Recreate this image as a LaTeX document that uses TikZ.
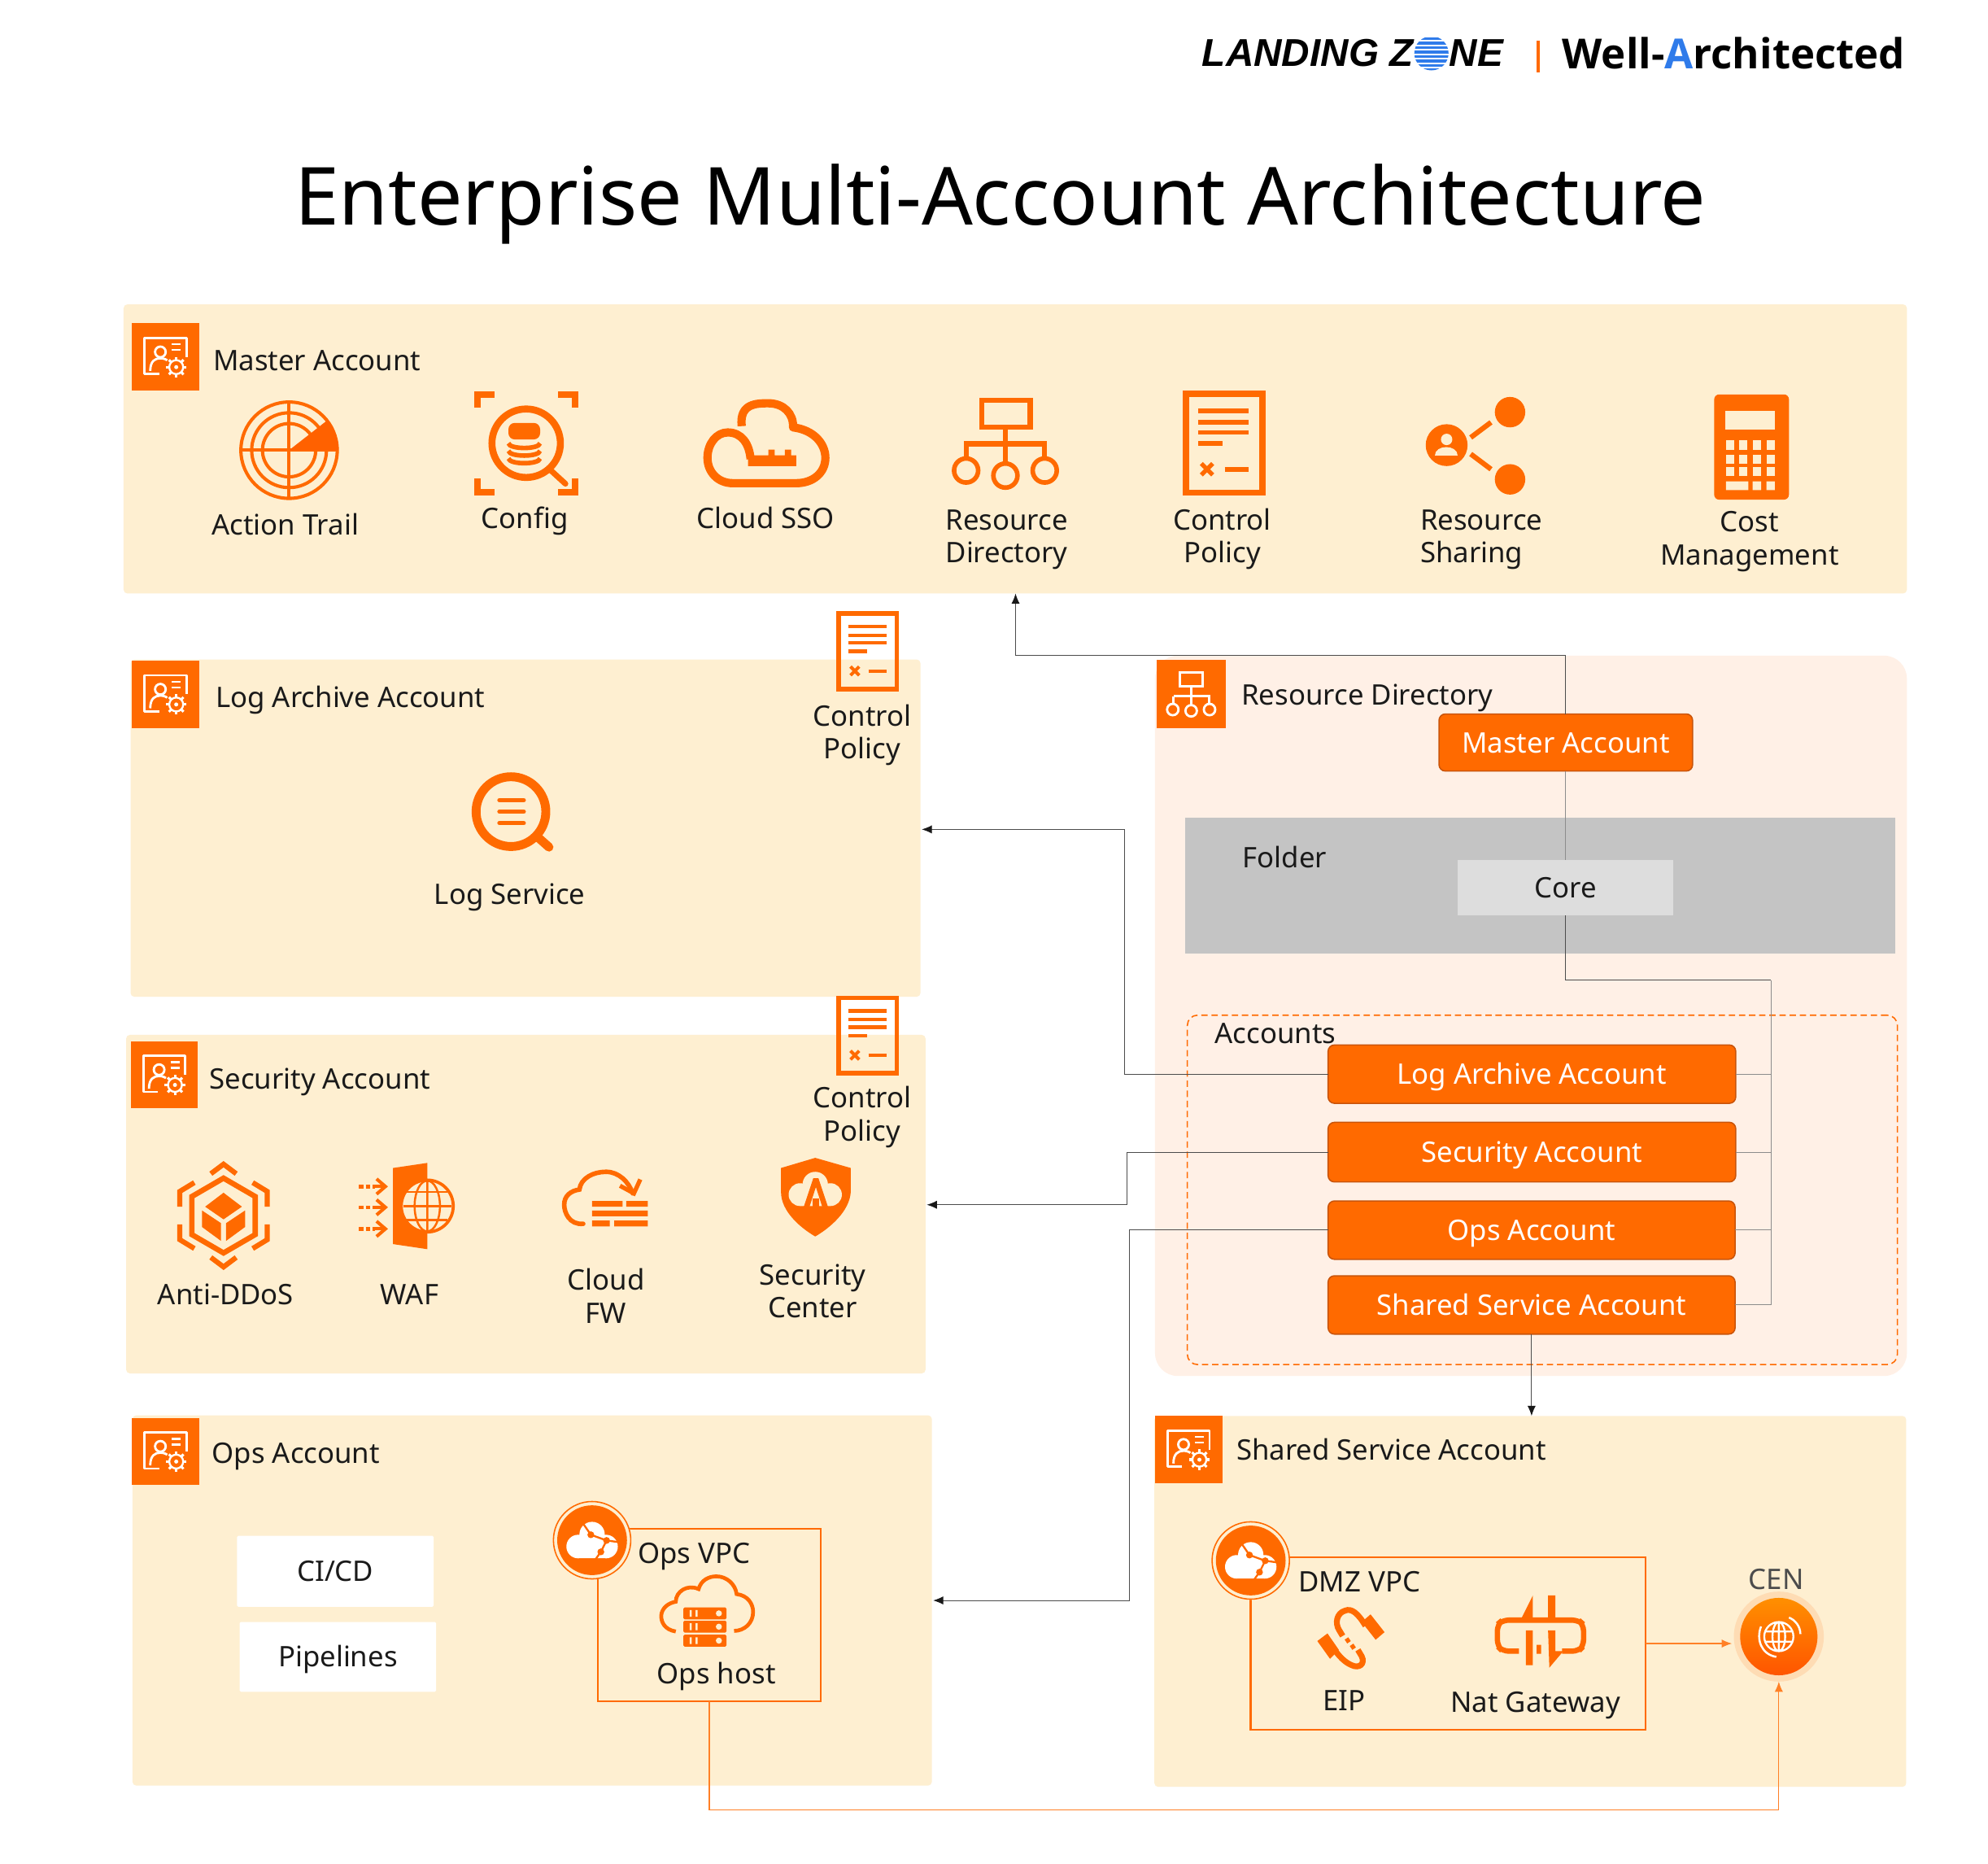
\documentclass[tikz,border=0pt]{standalone}
\usepackage{fontspec}
\setmainfont{Noto Sans}
\newfontfamily\logofont{Liberation Sans}
\newfontfamily\wafont{Open Sans}
\usetikzlibrary{arrows.meta,calc}
\definecolor{orm}{HTML}{FF6A00}
\definecolor{ordk}{HTML}{C9540A}
\definecolor{cream}{HTML}{FEEFD1}
\definecolor{rdbg}{HTML}{FFF0E6}
\definecolor{folderc}{HTML}{C4C4C4}
\definecolor{corec}{HTML}{DDDDDD}
\definecolor{ink}{HTML}{1A1A1A}
\definecolor{logoblue}{HTML}{2F7BEA}
\tikzset{
  panel/.style={fill=cream,rounded corners=3pt},
  rdpanel/.style={fill=rdbg,rounded corners=18pt},
  folderbox/.style={fill=folderc},
  one/.style={text height=16pt,text depth=0pt},
  corebox/.style={fill=corec,text=ink,font=\lblfont,one},
  dashbox/.style={draw=orm,dashed,line width=1pt,rounded corners=8pt,dash pattern=on 5pt off 3pt},
  acct/.style={fill=orm,draw=ordk,line width=1pt,rounded corners=5pt,text=white,font=\lblfont,one},
  whitebox/.style={fill=white,rounded corners=1pt,text=ink,font=\lblfont,one},
  vpcbox/.style={draw=orm,line width=1.5pt},
  lbl/.style={text=ink,font=\lblfont,inner sep=0pt,align=center},
  lbln/.style={text=ink,font=\lblfont,inner sep=0pt,one},
  lbll/.style={text=ink,font=\lblfont,inner sep=0pt,anchor=west,one},
  conn/.style={draw=black!70,line width=0.65pt},
  gconn/.style={draw=black!45,line width=0.65pt},
  oconn/.style={draw=orm!85,line width=0.8pt},
  tip/.style={-{Latex[length=8pt,width=6.5pt,black!90]}},
  otip/.style={-{Latex[length=8pt,width=6.5pt]}},
}
\newcommand{\lblfont}{\fontsize{22.3}{26}\selectfont}
\newcommand{\boxnode}[7]{%
  \pgfmathsetmacro\bw{#4-#2}\pgfmathsetmacro\bh{#5-#3}%
  \pgfmathsetmacro\bx{(#2+#4)/2}\pgfmathsetmacro\by{(#3+#5)/2}%
  \node[#6,minimum width=\bw pt,minimum height=\bh pt,inner sep=0pt,outer sep=0pt] (#1) at (\bx,\by) {#7};}
% account header icon
\newcommand{\icAcc}[2]{\begin{scope}[shift={(#1,#2)}]
  \fill[orm] (-26.5,-26.5) rectangle (26.5,26.5);
  \draw[white,line width=1.8pt,line join=round] (-5,13.5) -- (-16.5,13.5) -- (-16.5,-15) -- (16.5,-15) -- (16.5,0);
  \draw[white,line width=1.8pt] (-4,-4) circle (4.2pt);
  \draw[white,line width=1.8pt] (-12,11) .. controls (-12,3) and (-8,1) .. (-4,1) .. controls (-1,1) and (1,2) .. (3,4);
  \draw[white,line width=1.6pt] (5,-10) -- (12,-10) (5,-5.5) -- (12,-5.5);
  \fill[orm] (8.5,8) circle (9pt);
  \draw[white,line width=1.5pt] (8.5,8) circle (5.5pt);
  \fill[white] (8.5,8) circle (1.6pt);
  \foreach \a in {0,45,...,315} \draw[white,line width=2pt] (8.5,8) ++(\a:5.5pt) -- ++(\a:2.6pt);
\end{scope}}
% policy icon
\newcommand{\icPolicy}[3]{\begin{scope}[shift={(#1,#2)},scale=#3]
  \draw[orm,line width=#3*5pt] (-30,-39) rectangle (30,39);
  \draw[orm,line width=#3*3.6pt] (-20.5,-25.5) -- (19.5,-25.5) (-20.5,-16.5) -- (19.5,-16.5) (-20.5,-8.5) -- (19.5,-8.5) (-20.5,0) -- (-1,0) (0.5,20.5) -- (19.5,20.5);
  \draw[orm,line width=#3*3.4pt] (-18,16) -- (-9,25) (-18,25) -- (-9,16);
\end{scope}}
% white cloud VPC badge
\newcommand{\icVpc}[2]{\begin{scope}[shift={(#1,#2)}]
  \fill[cream] (0,0) circle (31pt);
  \draw[orm,line width=1pt] (0,0) circle (30.5pt);
  \fill[orm] (0,0) circle (27.5pt);
  \fill[white] (-11,5) circle (9.3pt) (0,-4.5) circle (10pt) (11,5) circle (9.3pt) (-11,0) rectangle (11,14.2);
  \draw[orm,line width=1.5pt] (-7,-13) -- (-1,-4.3) -- (11.4,0.2) -- (21,1.5) (11.4,0.2) -- (6.9,9.2) -- (2,16);
  \fill[orm] (-1,-4.3) circle (2.7pt) (11.4,0.2) circle (2.7pt) (6.9,9.2) circle (2.7pt);
\end{scope}}
\newcommand{\icServer}[1]{\fill[orm,rounded corners=1pt] (539,#1) rectangle (573,#1+9.4);
  \fill[cream] (544,#1+2) rectangle (545.6,#1+7.4) (548.6,#1+2) rectangle (550.2,#1+7.4) (567,#1+4.7) circle (2.4pt);}
\begin{document}
\begin{tikzpicture}[x=1pt,y=-1pt]
\useasboundingbox (0,0) rectangle (1568,1469.2);
\fill[white] (0,0) rectangle (1568,1469.2);

% ---- logo and title
\node[inner sep=0pt,anchor=west,text=black] (logoA) at (948,42) {\logofont\bfseries\itshape\fontsize{30.6}{32}\selectfont LANDING Z};
\begin{scope}
  \clip (1129,42) circle (13.5pt);
  \foreach \yy in {29.5,33,36.5,40,43.5,47,50.5,54} \fill[logoblue] (1114,\yy) rectangle (1144,\yy+2.1);
\end{scope}
\node[inner sep=0pt,anchor=west,text=black] (logoB) at (1143,42) {\logofont\bfseries\itshape\fontsize{30.6}{32}\selectfont NE};
\draw[orm,line width=2.6pt] (1213,32) -- (1213,57);
\node[inner sep=0pt,anchor=west,text=black] (wa) at (1232,42) {\wafont\fontsize{32.7}{34}\selectfont\bfseries Well-\textcolor{logoblue}{A}rchitected};
\node[inner sep=0pt,text=black] (title) at (789,161) {\fontsize{63.2}{70}\selectfont Enterprise Multi-Account Architecture};

% ---- panels
\boxnode{mpanel}{97.5}{240}{1504}{468}{panel}{}
\boxnode{lpanel}{103}{520}{726}{786}{panel}{}
\boxnode{spanel}{99.5}{816}{730}{1083}{panel}{}
\boxnode{opanel}{104.5}{1116}{735}{1408}{panel}{}
\boxnode{shpanel}{910.5}{1116.5}{1503.5}{1409}{panel}{}
\boxnode{rdpanel}{911}{517}{1504}{1085}{rdpanel}{}
\boxnode{folder}{935}{645}{1495}{752}{folderbox}{}
\boxnode{core}{1150}{678}{1320}{722}{corebox}{Core}
\boxnode{acctbox}{936.5}{800.5}{1496.5}{1076}{dashbox}{}

% ---- RD account buttons
\boxnode{rdmaster}{1135}{563}{1335}{608}{acct}{Master Account}
\boxnode{logacc}{1047.5}{824}{1369}{870}{acct}{Log Archive Account}
\boxnode{secacc}{1047.5}{885}{1369}{932}{acct}{Security Account}
\boxnode{opsacc}{1047.5}{947}{1368.5}{993}{acct}{Ops Account}
\boxnode{sharedacc}{1047.5}{1006}{1368.5}{1052}{acct}{Shared Service Account}

% ---- header icons
\icAcc{130.5}{281.5}
\icAcc{130.5}{547.5}
\icAcc{129.5}{847.5}
\icAcc{130.5}{1144.5}
\icAcc{937.5}{1143}
\begin{scope}[shift={(939.5,547)}]
  \fill[orm] (-27.5,-27) rectangle (27.5,27);
  \draw[white,line width=1.8pt] (-9,-17) rectangle (9,-6) (0,-6) -- (0,10) (-14,2) -- (14,2) -- (14,8) (-14,2) -- (-14,8);
  \draw[white,line width=1.8pt] (-14.5,12.5) circle (4.5pt) (0,13.5) circle (4.5pt) (14.5,12.5) circle (4.5pt);
\end{scope}

% ---- header labels
\node[lbll] (tMaster) at (168,284) {Master Account};
\node[lbll] (tLog) at (170,550) {Log Archive Account};
\node[lbll] (tSec) at (165,851) {Security Account};
\node[lbll] (tOps) at (167,1146) {Ops Account};
\node[lbll] (tShared) at (975,1143) {Shared Service Account};
\node[lbll] (tRD) at (979,548) {Resource Directory};
\node[lbll] (tFolder) at (980,676) {Folder};
\node[lbll] (tAccounts) at (958,815) {Accounts};

% ---- master panel: action trail
\begin{scope}[shift={(228,355)}]
  \draw[orm,line width=2.6pt] (0,0) circle (38pt) (0,0) circle (29.5pt) (0,0) circle (21pt);
  \draw[orm,line width=2.6pt] (-39,0) -- (39,0) (0,-39) -- (0,39);
  \fill[orm!92!red] (0,0) -- (39,0) arc[start angle=0,end angle=38,radius=39pt] -- cycle;
\end{scope}
\node[lbln] (tAction) at (225,414) {Action Trail};

% config
\begin{scope}[shift={(415,349.5)}]
  \draw[orm,line width=5pt] (-38.5,-28) -- (-38.5,-38.5) -- (-25,-38.5) (38.5,-28) -- (38.5,-38.5) -- (25,-38.5) (-38.5,28) -- (-38.5,38.5) -- (-25,38.5) (38.5,28) -- (38.5,38.5) -- (25,38.5);
  \draw[orm,line width=5.5pt] (0,0) circle (27pt);
  \draw[orm,line width=4.5pt,line cap=round] (19,21) -- (31,32);
  \fill[orm,rounded corners=5pt] (-14,-16) rectangle (11,-3);
  \draw[orm,line width=3.6pt] (-14,0) .. controls (-13,5) and (10,5) .. (11,0)
    (-14,6) .. controls (-13,11) and (10,11) .. (11,6)
    (-14,12) .. controls (-13,17) and (10,17) .. (11,12);
\end{scope}
\node[lbln] (tConfig) at (414,409) {Config};

% cloud SSO
\draw[orm,line width=6.5pt,line join=round] (585,336) .. controls (583,318) and (597,318) .. (606,318) .. controls (618,318) and (626,326) .. (625.5,337) .. controls (642,339) and (651,350) .. (651,361) .. controls (651,373) and (641,381) .. (628,381) -- (578,381) .. controls (566,381) and (558,372) .. (558,361) .. controls (558,350) and (565,341) .. (574,341) .. controls (585,341) and (591,350) .. (592,362);
\fill[orm] (590,359) rectangle (628,367.5) (606,354.5) rectangle (611,360) (619,354.5) rectangle (624,360);
\node[lbln] (tSSO) at (604,409) {Cloud SSO};

% resource directory
\draw[orm,line width=4pt] (774.5,315.5) rectangle (812.5,337) (793,337) -- (793,365) (762,362) -- (762,350) -- (824,350) -- (824,362);
\draw[orm,line width=3.6pt] (762,371) circle (9.5pt) (793,375) circle (9.5pt) (824,371) circle (9.5pt);
\node[lbl] (tRDir) at (794,425.5) {Resource\\Directory};

% control policy
\icPolicy{965.5}{349.5}{1}
\node[lbl] (tPol) at (964,425) {Control\\Policy};

% resource sharing
\fill[orm] (1191,325) circle (12pt) (1191,378) circle (12pt) (1141,351) circle (16.5pt);
\draw[orm,line width=4pt] (1160,345) -- (1176,333) (1160,358) -- (1176,370);
\fill[cream] (1141,346.5) circle (4.5pt);
\fill[cream] (1132,359) .. controls (1132,350) and (1150,350) .. (1150,359) -- cycle;
\node[lbl,anchor=west,align=left] (tShare) at (1120,425.5) {Resource\\Sharing};

% cost management
\fill[orm,rounded corners=4pt] (1352,311) rectangle (1411,394);
\fill[cream] (1361,324) rectangle (1400,339);
\foreach \cy in {351,362,372} \foreach \cx in {1364.6,1375,1385.6,1396.5} \fill[cream] (\cx-3.3,\cy-3.6) rectangle (\cx+3.3,\cy+3.6);
\fill[cream] (1361.3,379.5) rectangle (1379,386.5) (1382.3,379.5) rectangle (1389,386.5) (1393.2,379.5) rectangle (1399.8,386.5);
\node[lbl] (tCost) at (1380,427) {Cost\\Management};

% ---- log panel
\icPolicy{684.5}{513.5}{0.76}
\node[lbl] (tPol2) at (680,579.5) {Control\\Policy};
\draw[orm,line width=7pt] (403,640) circle (27.5pt);
\draw[orm,line width=7pt,line cap=round] (424,660) -- (433,668);
\draw[orm,line width=3.6pt,line cap=round] (394,631) -- (413,631) (394,640) -- (413,640) (394,649) -- (413,649);
\node[lbln] (tLogS) at (402,705) {Log Service};

% ---- security panel
\icPolicy{684.5}{816.5}{0.76}
\node[lbl] (tPol3) at (680,881) {Control\\Policy};
% anti-ddos
\begin{scope}[shift={(176.3,958.5)}]
  \draw[orm,line width=4pt,line join=miter] (-10,-33) -- (0,-40.5) -- (10,-33) (-10,33) -- (0,40.5) -- (10,33) (-23,-26) -- (-34.5,-19) -- (-34.5,-7) (23,-26) -- (34.5,-19) -- (34.5,-7) (-23,26) -- (-34.5,19) -- (-34.5,7) (23,26) -- (34.5,19) -- (34.5,7);
  \draw[orm,line width=4.2pt] (0,-29.5) -- (25,-15) -- (25,15) -- (0,29.5) -- (-25,15) -- (-25,-15) -- cycle;
  \fill[orm] (0,-18) -- (14.5,-7) -- (0,3) -- (-14.5,-7) -- cycle;
  \fill[orm] (-17,-4) -- (-2,6) -- (-2,20) -- (-17,9) -- cycle;
  \fill[orm] (17,-4) -- (2,6) -- (2,20) -- (17,9) -- cycle;
\end{scope}
\node[lbln] (tDdos) at (178,1020.5) {Anti-DDoS};
% waf
\fill[orm] (310,921) -- (337,917) -- (337,985) -- (310,981) -- cycle;
\begin{scope}
  \fill[cream] (337,951) circle (21pt);
  \draw[orm,line width=2.4pt] (337,951) circle (20.5pt);
  \draw[orm,line width=1.6pt] (337,931) -- (337,971) (337,951) ellipse (10pt and 20pt);
  \draw[orm,line width=1.6pt] (318,951) -- (356,951) (321,940) -- (353,940) (321,962) -- (353,962);
\end{scope}
\foreach \wy in {935.6,952,969} {
  \draw[orm,line width=3pt,dash pattern=on 3.5pt off 2pt] (283,\wy) -- (296,\wy);
  \draw[orm,line width=2.6pt] (297,\wy-6) -- (304,\wy) -- (297,\wy+6);
  \draw[orm,line width=2.6pt] (296,\wy) -- (303,\wy);
}
\node[lbln] (tWaf) at (323,1021) {WAF};
% cloud fw
\draw[orm,line width=3.6pt,line cap=round] (460,965) .. controls (449,966) and (445,956) .. (445,950) .. controls (445,943) and (450,939) .. (457,938) .. controls (458,929) and (468,924) .. (478,924) .. controls (488,924) and (496,932) .. (499,941);
\draw[orm,line width=3.4pt] (489,935) -- (500,941) -- (505,930);
\fill[orm] (467,947) rectangle (491,951.5) (494,947) rectangle (511,951.5) (467,954.5) rectangle (511,959) (467,962.5) rectangle (481,967) (484.5,962.5) rectangle (511,967);
\node[lbl] (tFw) at (478,1022) {Cloud\\FW};
% security center
\fill[orm] (643,913) -- (671,921) -- (671,940) .. controls (670,955) and (655,968) .. (643,975) .. controls (631,968) and (616,955) .. (616,940) -- (616,921) -- cycle;
\fill[cream] (631,942) circle (9pt) (643,934) circle (10pt) (655,942) circle (9pt) (631,940) rectangle (655,951);
\fill[orm] (641.5,929) -- (645.5,929) -- (653,951.5) -- (648.5,951.5) -- (643.5,936) -- (638.5,951.5) -- (634,951.5) -- cycle;
\fill[orm] (641,945) rectangle (646,951.5);
\node[lbl] (tSc) at (641,1018) {Security\\Center};

% ---- ops panel
\boxnode{cicd}{187}{1211}{342}{1267}{whitebox}{CI/CD}
\boxnode{pipes}{189}{1279}{344}{1334}{whitebox}{Pipelines}
\boxnode{opsvpc}{471.5}{1205.5}{647.5}{1341.5}{vpcbox}{}
\icVpc{467}{1214.5}
\node[lbll] (tOpsVpc) at (503,1225) {Ops VPC};
\draw[orm,line width=3pt] (533,1286.5) .. controls (524,1285) and (521.5,1279) .. (521.5,1274) .. controls (522,1268) and (527,1264) .. (533,1263) .. controls (533,1255) and (542,1249) .. (551,1253) .. controls (553,1246) and (559,1243) .. (565,1243) .. controls (573,1243) and (580,1249) .. (581,1257) .. controls (590,1258) and (594,1265) .. (594,1271) .. controls (594,1280) and (587,1286) .. (579,1286);
\icServer{1267.5}
\icServer{1278}
\icServer{1289}
\node[lbln] (tHost) at (565,1320) {Ops host};

% ---- shared panel
\boxnode{dmzvpc}{986.5}{1228}{1298}{1364}{vpcbox}{}
\icVpc{986.5}{1230.5}
\node[lbll] (tDmz) at (1024,1247) {DMZ VPC};
% eip
\draw[orm,line width=4.6pt] (1077,1282) .. controls (1071,1272) and (1066,1268) .. (1061,1270) .. controls (1054,1272) and (1053,1280) .. (1056,1285) -- (1059,1290);
\draw[orm,line width=4.6pt] (1071,1301) -- (1074,1306) .. controls (1077,1312) and (1072,1316) .. (1066,1313) .. controls (1061,1311) and (1056,1306) .. (1052,1300);
\draw[orm,line width=3.4pt] (1062,1292) -- (1064,1295);
\draw[orm,line width=3.4pt] (1066,1297) -- (1068,1300);
\fill[orm] (1074,1279) -- (1081,1273) -- (1092,1287) -- (1085,1293) -- cycle;
\fill[orm] (1039,1294) -- (1047,1288) -- (1056,1301) -- (1049,1308) -- cycle;
\node[lbln] (tEip) at (1060,1341) {EIP};
% nat gateway
\draw[orm,line width=4.2pt,rounded corners=5pt] (1198,1302) -- (1185,1302) -- (1181,1298) -- (1181,1281) -- (1185,1277.5) -- (1245,1277.5) -- (1249,1281) -- (1249,1298) -- (1245,1302) -- (1232,1302);
\fill[orm] (1209,1258) -- (1209,1276) -- (1200,1276) -- cycle (1221,1258) rectangle (1226.7,1276) (1203.5,1285.6) rectangle (1209,1313) (1221,1285.6) -- (1226.7,1285.6) -- (1226.7,1302) -- (1233,1302) -- (1222,1315) -- cycle (1212,1297) rectangle (1215.5,1304);
\node[lbln] (tNat) at (1211,1342) {Nat Gateway};
% cen
\node[circle,fill=orm!14!cream,minimum size=71pt,inner sep=0pt,outer sep=0pt] (cen) at (1403,1290.5) {};
\node[circle,top color=orm!75!yellow,bottom color=orm!80!red,minimum size=61pt,inner sep=0pt,outer sep=0pt] (cenin) at (1403,1290.5) {};
\begin{scope}[shift={(1403,1290.5)}]
  \draw[white,line width=1.5pt] (0,0) circle (11.5pt) (0,0) ellipse (5pt and 11.5pt) (0,-11.5) -- (0,11.5) (-11,-4) -- (11,-4) (-11,4) -- (11,4);
  \draw[white,line width=1.6pt] (-14,-8) .. controls (-18,2) and (-14,14) .. (-2,16) (8,-15) .. controls (13,-13) and (17,-8) .. (17,-2);
\end{scope}
\node[text=black!70,font=\lblfont,inner sep=0pt,one] (tCen) at (1401,1245) {CEN};

% ---- connectors
\coordinate (mIn) at (801,468);
\draw[conn,tip] (rdmaster.north) -- ++(0,-46) -| (mIn);
\draw[gconn] (rdmaster.south) -- (core.north);
\coordinate (trunk) at (1397,773);
\draw[conn] (core.south) |- (trunk);
\draw[gconn] (trunk) |- (sharedacc.east);
\draw[gconn] (logacc.east) -- (logacc.east -| trunk);
\draw[gconn] (secacc.east) -- (secacc.east -| trunk);
\draw[gconn] (opsacc.east) -- (opsacc.east -| trunk);
\coordinate (lIn) at (727,654);
\coordinate (sIn) at (731,950);
\coordinate (oIn) at (736,1262);
\draw[conn,tip] (logacc.west) -- ++(-160.5,0) |- (lIn);
\draw[conn,tip] (secacc.west) -- ++(-158.5,0) |- (sIn);
\draw[conn,tip] (opsacc.west) -- ++(-156.5,0) |- (oIn);
\draw[conn,tip] (sharedacc.south) -- (sharedacc.south |- shpanel.north);
\coordinate (cenL) at (1366,1296);
\draw[oconn,otip] (dmzvpc.east) -- (cenL);
\draw[oconn,otip] (opsvpc.south) -- ++(0,85.5) -| (cen.south);
\end{tikzpicture}
\end{document}
